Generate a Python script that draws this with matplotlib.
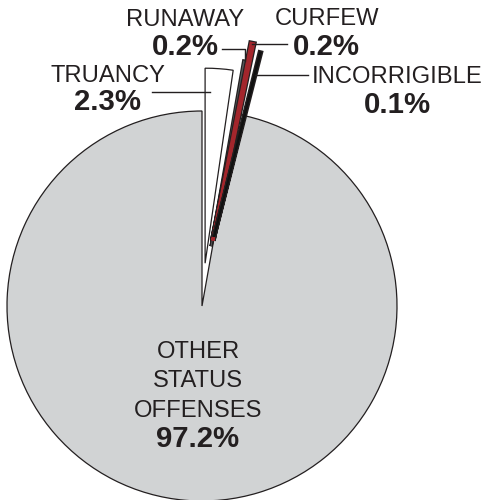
import matplotlib
matplotlib.use("Agg")
import matplotlib.pyplot as plt
import matplotlib.patheffects as pe
import numpy as np

# ---- data ----
categories = ["TRUANCY", "RUNAWAY", "CURFEW", "INCORRIGIBLE", "OTHER\nSTATUS\nOFFENSES"]
shares = [2.3, 0.2, 0.2, 0.1, 97.2]
pct_labels = ["2.3%", "0.2%", "0.2%", "0.1%", "97.2%"]

# ---- style ----
colors = ["#ffffff", "#58595b", "#a3262c", "#111111", "#d1d3d4"]
explode = [0.22, 0.31, 0.34, 0.36, 0.0]
radii = [1.0, 0.965, 1.03, 0.975, 1.0]
nudge_deg = [0.0, -1.7, -2.0, -4.2, 0.0]   # visual separation of thin slices
face_lw = [0.9, 0.6, 2.4, 1.2, 0.9]        # widening stroke in face colour
outline_lw = [0, 2.4, 4.2, 3.2, 0]         # dark outline stroke (thin slices)
INK = "#231f20"
FONT = ["Liberation Sans", "DejaVu Sans"]

W, H = 486, 500
CX, CY, R = 202, 306, 195

fig = plt.figure(figsize=(W / 100, H / 100), dpi=100)
ax = fig.add_axes([0, 0, 1, 1])

wedges, _ = ax.pie(shares, colors=colors, explode=explode, startangle=90,
                   counterclock=False,
                   wedgeprops=dict(edgecolor=INK, linewidth=0.9))
for i, w in enumerate(wedges):
    w.set_radius(radii[i])
    d = nudge_deg[i]
    if d:
        w.set_theta1(w.theta1 + d)
        w.set_theta2(w.theta2 + d)
    if outline_lw[i]:
        w.set_edgecolor(colors[i])
        w.set_linewidth(face_lw[i])
        w.set_joinstyle("miter")
        w.set_path_effects([pe.Stroke(linewidth=outline_lw[i], foreground=INK,
                                      joinstyle="miter"),
                            pe.Normal()])
    w.set_zorder(3 if i < 4 else 2)

ax.set_xlim(-CX / R, (W - CX) / R)
ax.set_ylim(-(H - CY) / R, CY / R)
ax.set_aspect("equal")
ax.axis("off")


def P(x, y):
    return ((x - CX) / R, (CY - y) / R)


def top_of(w):
    ang = np.deg2rad((w.theta1 + w.theta2) / 2)
    cx, cy = w.center
    return cx + w.r * np.cos(ang), cy + w.r * np.sin(ang)


def x_at(w, y):
    ang = np.deg2rad((w.theta1 + w.theta2) / 2)
    cx, cy = w.center
    return cx + (y - cy) / np.tan(ang)


NORM = 17.1
BOLD = 21.2

def label(x, cat_base, pct_base, cat, pct):
    ax.text(*P(x, cat_base), cat, ha="center", va="baseline", fontsize=NORM,
            color=INK, family=FONT)
    ax.text(*P(x, pct_base), pct, ha="center", va="baseline", fontsize=BOLD,
            fontweight="bold", color=INK, family=FONT)

label(107.5, 82, 110, categories[0], pct_labels[0])
label(185.5, 26.5, 55, categories[1], pct_labels[1])
label(326.5, 25, 55, categories[2], pct_labels[2])
label(397.5, 83, 113, categories[3], pct_labels[3])

lines = categories[4].split("\n")
for k, ln in enumerate(lines):
    ax.text(*P(198, 358 + 29.3 * k), ln, ha="center", va="baseline",
            fontsize=NORM, color=INK, family=FONT)
ax.text(*P(198, 447), pct_labels[4], ha="center", va="baseline", fontsize=BOLD,
        fontweight="bold", color=INK, family=FONT)

lw = 1.0
# truancy leader
x0, y0 = P(152, 92)
x1, _ = P(210, 92)
ax.plot([x0, x1], [y0, y0], color=INK, lw=lw, zorder=5)
# runaway leader (elbow)
tx, ty = top_of(wedges[1])
sx, sy = P(222, 49)
ax.plot([sx, tx, tx], [sy, sy, ty], color=INK, lw=lw, zorder=5)
# curfew leader
tx, ty = top_of(wedges[2])
ex, _ = P(287, 0)
ax.plot([tx, ex], [ty, ty], color=INK, lw=lw, zorder=5)
# incorrigible leader
_, yy = P(0, 75)
xs = x_at(wedges[3], yy)
ex, _ = P(308, 0)
ax.plot([xs, ex], [yy, yy], color=INK, lw=lw, zorder=5)

fig.savefig("out.png", dpi=100, facecolor="white")
